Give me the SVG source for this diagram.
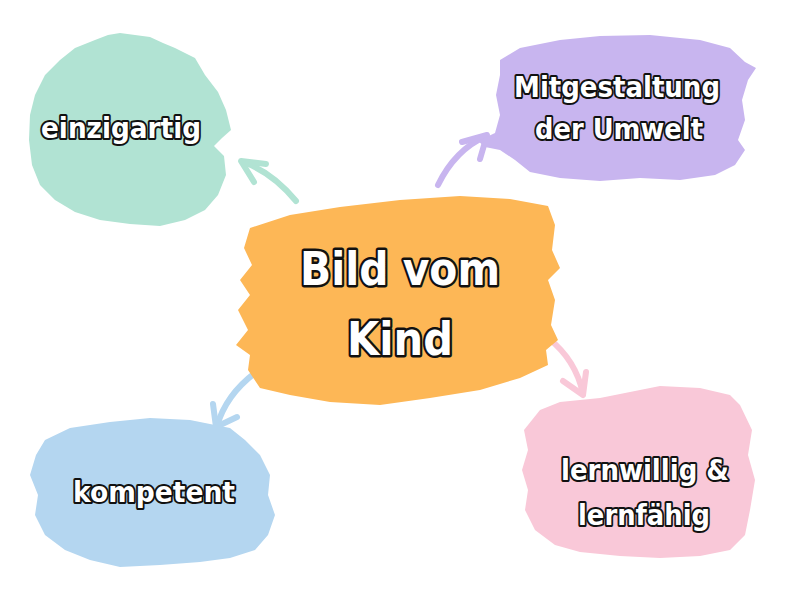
<svg xmlns="http://www.w3.org/2000/svg" width="800" height="600" viewBox="0 0 800 600">
<style>
.lbl{font-family:"DejaVu Sans","Liberation Sans",Arial,sans-serif;font-weight:bold;fill:#ffffff;stroke:#111111;stroke-width:4;stroke-linejoin:round;paint-order:stroke;text-anchor:middle}
.big{font-size:46px;stroke-width:5}
.sm{font-size:28px}
.shaft{fill:none;stroke-width:6;stroke-linecap:round}
.head{fill:none;stroke-width:6;stroke-linecap:round;stroke-linejoin:round}
.g{stroke:#b1e3d3}.p{stroke:#c8b5ef}.k{stroke:#f9c8d8}.b{stroke:#b4d6f0}
</style>
<rect width="800" height="600" fill="#ffffff"/>
<g id="connectors">
  <path class="shaft g" d="M296,201 Q272,172 243,162"/>
  <polyline class="head g" points="266,164 241,161 254,182"/>
  <path class="shaft p" d="M438,185 Q455,150 486,136"/>
  <polyline class="head p" points="462,142 487,135 480,159"/>
  <path class="shaft k" d="M548,338 Q576,360 583,394"/>
  <polyline class="head k" points="563,381 583,395 586,372"/>
  <path class="shaft b" d="M255,373 Q226,395 217,426"/>
  <polyline class="head b" points="213,404 216,427 237,417"/>
</g>
<g id="node-einzigartig">
  <path fill="#b1e3d3" d="M95,40 L108,35 L120,33 L150,37 L163,43 L175,48 L195,58 L205,75 L218,92 L226,110 L231,130 L222,138 L214,146 L224,156 L226,175 L218,195 L205,210 L185,220 L160,226 L130,224 L100,220 L75,212 L55,200 L40,185 L32,165 L29,140 L30,115 L35,95 L45,75 L60,60 L75,48 Z"/>
  <text class="lbl sm" x="121" y="138" textLength="160" lengthAdjust="spacingAndGlyphs">einzigartig</text>
</g>
<g id="node-umwelt">
  <path fill="#c8b5ef" d="M500,60 L520,48 L560,40 L600,36 L650,35 L700,40 L730,48 L745,62 L756,68 L748,80 L742,100 L745,120 L738,140 L745,150 L735,165 L715,175 L680,180 L640,178 L600,181 L560,178 L530,172 L515,160 L500,150 L485,147 L478,141 L495,133 L500,115 L496,95 L500,75 Z"/>
  <text class="lbl sm" x="617" y="97" textLength="206" lengthAdjust="spacingAndGlyphs">Mitgestaltung</text>
  <text class="lbl sm" x="619" y="139" textLength="168" lengthAdjust="spacingAndGlyphs">der Umwelt</text>
</g>
<g id="node-lernwillig">
  <path fill="#f9c8d8" d="M540,410 L560,402 L600,398 L630,392 L660,386 L700,388 L730,395 L740,405 L752,430 L748,455 L755,480 L750,510 L745,535 L730,550 L700,556 L660,558 L620,556 L580,552 L555,545 L535,530 L525,510 L528,490 L522,470 L528,450 L524,430 Z"/>
  <text class="lbl sm" x="645" y="480" textLength="168" lengthAdjust="spacingAndGlyphs">lernwillig &amp;</text>
  <text class="lbl sm" x="644" y="525" textLength="132" lengthAdjust="spacingAndGlyphs">lernfähig</text>
</g>
<g id="node-kompetent">
  <path fill="#b4d6f0" d="M45,440 L70,428 L110,422 L150,418 L190,420 L215,425 L230,428 L245,440 L260,455 L270,475 L268,495 L275,515 L268,535 L255,550 L230,558 L200,562 L160,565 L120,567 L90,560 L65,550 L45,535 L35,515 L38,495 L30,475 L36,455 Z"/>
  <text class="lbl sm" x="154" y="502" textLength="162" lengthAdjust="spacingAndGlyphs">kompetent</text>
</g>
<g id="node-center">
  <path fill="#fdb756" d="M250,228 L290,215 L340,207 L400,200 L460,196 L510,199 L548,206 L555,225 L552,250 L560,268 L548,280 L555,300 L551,325 L558,340 L546,350 L548,365 L520,378 L480,390 L430,398 L380,405 L330,402 L290,395 L260,388 L248,370 L250,355 L236,345 L248,330 L238,310 L250,295 L240,280 L252,265 L244,248 Z"/>
  <text class="lbl big" x="400" y="285" textLength="200" lengthAdjust="spacingAndGlyphs">Bild vom</text>
  <text class="lbl big" x="400" y="355" textLength="106" lengthAdjust="spacingAndGlyphs">Kind</text>
</g>
</svg>
